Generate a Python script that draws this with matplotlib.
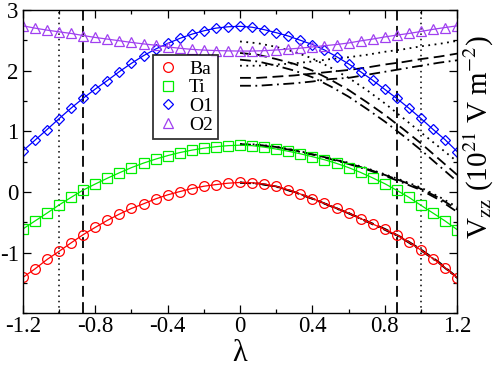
import matplotlib
matplotlib.use("Agg")
import matplotlib.pyplot as plt
from matplotlib.ticker import MultipleLocator

plt.rcParams['font.family'] = ['Liberation Serif', 'DejaVu Serif']
plt.rcParams['mathtext.fontset'] = 'stix'

# lambda values of the symbols (-1.2 .. 1.2 in steps of 1/15)
lam = [-1.2 + k / 15.0 for k in range(37)]

ba = [-1.41, -1.27, -1.115, -0.98, -0.84, -0.705, -0.585, -0.47, -0.366, -0.273,
      -0.197, -0.115, -0.049, 0.005, 0.054, 0.093, 0.12, 0.143, 0.155,
      0.15, 0.13, 0.09, 0.035, -0.035, -0.11, -0.19, -0.27, -0.35, -0.44,
      -0.53, -0.62, -0.71, -0.83, -0.96, -1.10, -1.25, -1.415]
ti = [-0.612, -0.48, -0.35, -0.215, -0.09, 0.03, 0.13, 0.225, 0.315, 0.40,
      0.475, 0.54, 0.598, 0.648, 0.688, 0.72, 0.745, 0.762, 0.77,
      0.762, 0.738, 0.706, 0.67, 0.628, 0.58, 0.53, 0.47, 0.40, 0.32,
      0.23, 0.135, 0.025, -0.09, -0.222, -0.35, -0.48, -0.623]
o1 = [0.677, 0.852, 1.028, 1.208, 1.382, 1.545, 1.695, 1.836, 1.984, 2.12,
      2.246, 2.355, 2.448, 2.53, 2.60, 2.656, 2.70, 2.722, 2.73,
      2.715, 2.675, 2.625, 2.57, 2.50, 2.43, 2.34, 2.23, 2.11, 1.98,
      1.84, 1.69, 1.54, 1.38, 1.21, 1.03, 0.86, 0.665]
o2 = [2.738, 2.70, 2.667, 2.639, 2.612, 2.578, 2.546, 2.519, 2.492, 2.464,
      2.44, 2.418, 2.39, 2.368, 2.35, 2.338, 2.33, 2.325, 2.322,
      2.322, 2.328, 2.34, 2.355, 2.37, 2.39, 2.41, 2.43, 2.455, 2.49,
      2.52, 2.555, 2.585, 2.612, 2.645, 2.68, 2.71, 2.738]

# model curves (black), lambda 0 .. 1.2
lam_fit = [0.0, 0.1, 0.2, 0.3, 0.4, 0.5, 0.6, 0.7, 0.8, 0.9, 1.0, 1.1, 1.2]
ba_dot = [0.155, 0.14, 0.09, 0.0, -0.11, -0.23, -0.35, -0.485, -0.62, -0.77, -0.96, -1.17, -1.415]
ba_dash = [0.155, 0.14, 0.09, 0.0, -0.11, -0.23, -0.35, -0.48, -0.61, -0.76, -0.95, -1.16, -1.41]
ba_dd = [0.15, 0.135, 0.085, -0.005, -0.115, -0.235, -0.355, -0.49, -0.625, -0.775, -0.965, -1.175, -1.42]
ti_dot = [0.79, 0.78, 0.745, 0.69, 0.625, 0.555, 0.48, 0.39, 0.29, 0.185, 0.07, -0.08, -0.25]
ti_dash = [0.785, 0.775, 0.74, 0.685, 0.62, 0.55, 0.47, 0.38, 0.28, 0.17, 0.05, -0.10, -0.29]
ti_dd = [0.78, 0.77, 0.735, 0.68, 0.615, 0.54, 0.46, 0.37, 0.265, 0.15, 0.03, -0.13, -0.33]
o1_dot = [2.48, 2.45, 2.39, 2.31, 2.20, 2.05, 1.88, 1.68, 1.46, 1.22, 0.98, 0.74, 0.50]
o1_dash = [2.29, 2.26, 2.19, 2.11, 2.00, 1.85, 1.68, 1.48, 1.27, 1.04, 0.80, 0.54, 0.28]
o1_dd = [2.18, 2.15, 2.08, 2.00, 1.89, 1.74, 1.57, 1.37, 1.16, 0.93, 0.69, 0.43, 0.17]
o2_dot = [2.08, 2.08, 2.10, 2.12, 2.15, 2.19, 2.22, 2.26, 2.31, 2.35, 2.40, 2.44, 2.49]
o2_dash = [1.88, 1.88, 1.90, 1.92, 1.95, 1.98, 2.01, 2.05, 2.10, 2.14, 2.19, 2.23, 2.28]
o2_dd = [1.75, 1.75, 1.77, 1.79, 1.82, 1.86, 1.88, 1.93, 1.98, 2.03, 2.08, 2.13, 2.17]

fig = plt.figure(figsize=(4.98, 3.68), dpi=100)
ax = fig.add_axes([0.046, 0.149, 0.872, 0.824])

# vertical guide lines
for xv in (-1.0, 1.0):
    ax.axvline(xv, color='black', lw=1.1, ls=(0, (1, 2.5)))
for xv in (-0.866, 0.866):
    ax.axvline(xv, color='black', lw=1.3, ls=(0, (6, 3)))

DOT = (0, (1, 2.5))
DASH = (0, (6, 3))
DD = (0, (6, 2.5, 1, 2.5))
for yd, ys, yc in [(ba_dot, ba_dash, ba_dd), (ti_dot, ti_dash, ti_dd),
                   (o1_dot, o1_dash, o1_dd), (o2_dot, o2_dash, o2_dd)]:
    ax.plot(lam_fit, yd, color='black', lw=1.3, ls=DOT)
    ax.plot(lam_fit, ys, color='black', lw=1.3, ls=DASH)
    ax.plot(lam_fit, yc, color='black', lw=1.3, ls=DD)

series = [(ba, 'o', '#ff0000', 'Ba', 7.0),
          (ti, 's', '#00ee00', 'Ti', 6.5),
          (o1, 'D', '#0000ff', 'O1', 5.5),
          (o2, '^', '#a040f0', 'O2', 7.0)]
for vals, mk, col, name, ms in series:
    ax.plot(lam, vals, color=col, lw=0.9, marker=mk, ms=ms, mfc='none',
            mec=col, mew=0.9, label=name)

ax.set_xlim(-1.2, 1.2)
ax.set_ylim(-2, 3)
ax.set_xticks([-1.2, -0.8, -0.4, 0, 0.4, 0.8, 1.2])
ax.set_xticklabels(['-1.2', '-0.8', '-0.4', '0', '0.4', '0.8', '1.2'])
ax.set_yticks([-1, 0, 1, 2, 3])
ax.set_yticklabels(['-1', '0', '1', '2', '3'])
ax.xaxis.set_minor_locator(MultipleLocator(0.2))
ax.yaxis.set_minor_locator(MultipleLocator(0.5))
ax.tick_params(which='both', direction='in', top=True, right=True,
               labelsize=16.5, width=0.9)
ax.tick_params(which='major', length=6, pad=3)
ax.tick_params(axis='x', which='major', pad=2)
ax.tick_params(which='minor', length=3)
for sp in ax.spines.values():
    sp.set_linewidth(1.0)

ax.set_xlabel('λ', fontsize=22)
ax.xaxis.label.set_verticalalignment('bottom')
ax.xaxis.set_label_coords(0.5, -0.182)
ax.yaxis.set_label_position('right')
ax.set_ylabel(r'V$_{\mathrm{zz}}$ (10$^{21}$ V m$^{-2}$)', fontsize=21)
ax.yaxis.set_label_coords(1.012, 0.58)

leg = ax.legend(loc='upper left', bbox_to_anchor=(0.30, 0.85), fontsize=14,
                frameon=True, fancybox=False, handlelength=1.0,
                handletextpad=0.6, borderpad=0.25, labelspacing=0.05,
                borderaxespad=0)
leg.get_frame().set_edgecolor('black')
leg.get_frame().set_linewidth(1.3)
for h in leg.legend_handles:
    h.set_linestyle('none')

fig.savefig('out.png', dpi=100)
